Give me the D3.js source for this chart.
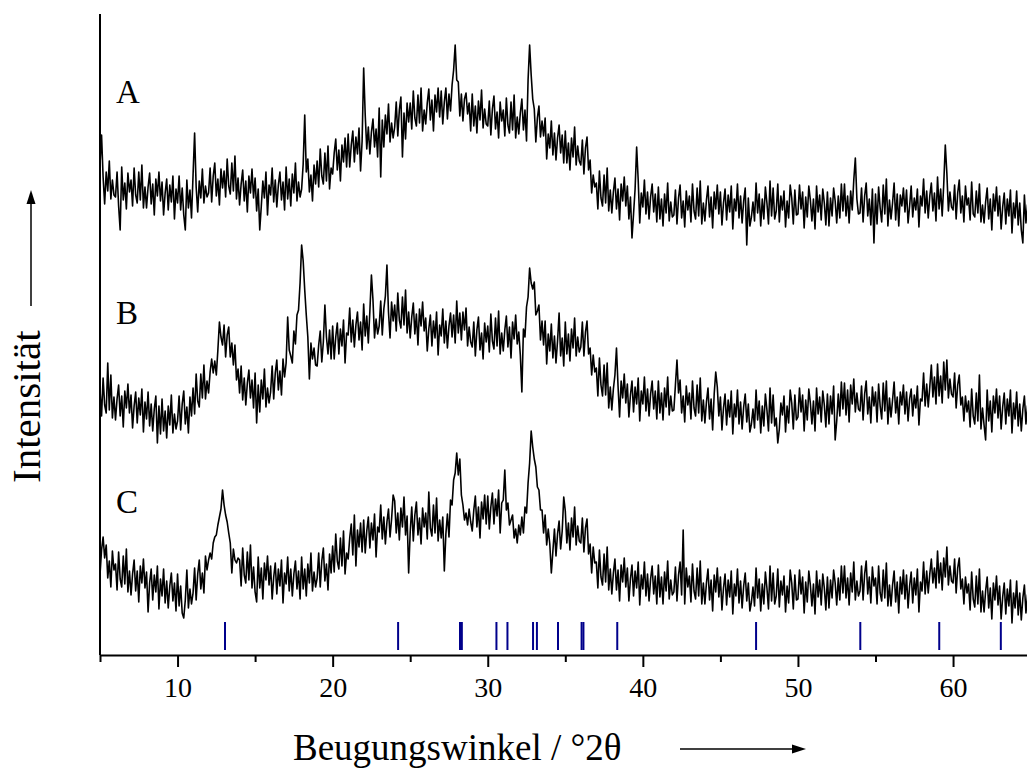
<!DOCTYPE html>
<html><head><meta charset="utf-8">
<script src="https://cdn.jsdelivr.net/npm/d3@7"></script>
<style>body{margin:0;background:#fff}svg{display:block}</style>
</head><body>
<svg id="c" width="1027" height="769"></svg>
<script>
// ---- data (intensity, arbitrary units, patterns already stacked) ----
const angleStart = 5.0, angleStep = 0.1;
const seriesA = [
490,520,478,451,483,464,494,456,475,460,
458,483,449,425,488,455,472,446,482,463,
475,449,487,460,452,483,455,490,447,468,
447,468,482,451,471,440,476,459,483,454,
473,440,462,476,445,470,453,479,436,466,
452,479,445,467,440,425,475,447,465,437,
480,522,468,443,474,457,486,452,469,458,
462,487,453,479,492,459,476,450,486,467,
484,458,496,469,461,492,464,499,456,477,
450,471,485,454,474,443,479,462,486,457,
477,444,466,425,449,474,457,483,440,470,
460,487,453,475,448,470,483,455,473,445,
488,456,476,449,481,462,492,454,473,458,
466,491,540,483,496,463,480,454,490,471,
494,468,506,479,471,502,474,509,466,487,
481,502,516,485,505,474,510,493,517,488,
521,488,510,524,493,518,501,527,484,514,
587,540,506,528,501,523,536,508,526,498,
547,478,535,508,540,521,551,513,532,517,
528,553,519,545,558,498,542,516,552,533,
552,526,564,537,529,560,532,567,524,545,
531,552,566,535,555,524,560,543,567,538,
564,531,553,567,536,561,544,570,585,610,
575,573,539,561,534,556,562,541,552,524,
561,529,549,522,554,535,565,527,546,531,
529,554,520,546,559,526,543,517,553,534,
545,519,557,530,522,553,525,560,517,538,
521,542,556,525,545,514,575,610,580,556,
546,513,537,549,518,534,519,537,496,521,
507,534,500,522,495,517,530,502,520,492,
524,492,512,485,517,498,528,490,509,494,
490,515,481,507,518,485,495,462,480,468,
472,446,484,457,449,480,452,487,444,465,
442,463,477,446,466,435,471,454,478,449,
469,436,458,417,441,466,508,475,432,462,
448,475,441,463,436,458,471,443,461,433,
468,436,456,429,461,442,472,434,453,438,
440,465,431,457,470,437,454,428,464,445,
459,433,471,444,436,467,439,474,431,452,
434,455,469,438,458,427,463,446,470,441,
463,430,452,466,435,460,443,469,426,456,
444,471,437,459,432,454,467,410,457,429,
438,453,434,472,442,461,429,456,436,468,
452,431,474,439,467,436,444,471,433,459,
445,464,428,454,437,470,457,431,465,440,
441,470,446,463,427,458,438,469,455,434,
456,426,469,443,460,435,466,452,430,463,
429,457,439,467,454,432,459,437,471,444,
471,439,459,432,464,445,475,497,456,441,
442,467,433,459,472,439,456,430,466,412,
461,431,468,447,433,470,441,476,429,455,
436,452,472,435,461,429,460,449,467,443,
465,432,449,469,438,457,445,466,428,459,
449,476,442,464,437,459,472,444,462,434,
478,446,466,439,471,510,482,444,463,448,
445,470,436,462,475,442,459,433,469,450,
457,435,473,441,438,464,442,471,433,450,
432,453,467,436,456,425,461,444,468,439,
459,426,448,462,431,456,439,465,422,452,
437,464,430,452,425,412,460,432,450,422
];
const seriesB = [
265,239,277,250,242,292,245,280,237,258,
235,256,270,239,259,228,264,247,271,242,
260,227,249,263,232,257,240,266,223,253,
236,263,229,251,224,246,259,212,249,221,
256,224,244,217,249,230,260,222,241,226,
234,259,225,251,264,231,248,222,258,239,
267,241,281,254,248,281,257,290,256,274,
262,283,296,282,294,280,305,333,318,310,
330,298,320,328,298,312,290,310,275,286,
262,289,255,277,250,272,285,257,275,247,
282,232,270,243,275,256,286,248,267,252,
263,289,256,282,295,265,284,260,296,278,
292,338,305,299,292,324,311,340,345,372,
410,394,365,340,318,276,312,296,307,290,
289,310,324,293,313,350,318,301,325,296,
329,296,318,332,301,326,309,335,292,322,
320,347,313,335,308,330,343,315,333,305,
351,319,339,312,344,380,355,317,336,321,
329,354,320,346,359,390,343,317,353,334,
350,324,362,335,327,358,330,365,322,343,
317,338,352,321,341,310,346,329,353,324,
337,304,326,340,309,334,317,343,300,330,
319,346,312,334,307,329,342,318,340,312,
354,322,342,315,343,325,347,309,328,313,
308,333,299,325,338,305,322,296,332,313,
329,303,341,314,306,337,309,344,301,322,
304,325,339,308,328,297,333,316,340,311,
323,300,263,326,318,348,358,387,372,366,
373,340,344,350,315,334,310,334,291,321,
304,331,297,319,292,314,342,299,317,289,
333,301,321,294,326,307,337,299,318,303,
308,333,299,323,334,301,307,280,300,283,
287,259,297,270,259,290,260,292,247,268,
245,266,280,307,269,238,274,257,281,252,
271,238,260,274,243,268,251,277,234,264,
251,278,244,266,239,261,274,246,264,236,
274,242,262,235,267,248,278,240,259,244,
245,270,295,262,275,242,259,233,269,250,
262,236,274,247,239,270,242,277,234,255,
232,253,267,236,256,225,261,283,268,239,
258,225,247,261,230,255,238,264,221,251,
238,265,231,253,226,248,261,233,251,223,
231,246,227,265,235,254,222,249,229,261,
245,224,267,232,260,229,237,212,226,252,
240,259,223,249,232,265,252,226,260,235,
238,267,243,260,224,255,235,266,252,231,
254,224,267,241,258,233,264,250,228,261,
231,259,241,269,215,234,261,239,273,246,
272,240,265,233,270,251,276,243,262,246,
244,269,235,261,274,241,258,232,268,249,
263,233,271,249,236,272,244,274,231,257,
238,255,273,242,258,231,263,250,270,241,
263,234,256,266,239,260,247,269,230,256,
254,282,249,271,248,268,290,258,278,251,
291,259,279,252,293,265,295,257,276,261,
258,282,247,270,280,250,258,234,259,243,
254,228,266,239,231,262,234,280,226,247,
230,215,265,234,254,223,259,242,266,237,
259,226,248,262,231,256,239,265,222,252,
236,263,229,251,224,246,259,231,249,221
];
const seriesC = [
80,105,118,97,110,77,94,68,104,85,
91,65,103,76,68,99,71,106,63,84,
60,81,95,64,84,53,89,72,96,67,
83,43,72,86,55,80,63,89,46,76,
59,86,52,74,47,69,82,54,72,44,
81,49,69,42,37,55,85,47,66,51,
62,87,55,81,95,66,82,62,99,85,
95,102,96,112,118,120,130,138,146,165,
150,140,133,122,112,82,106,95,92,97,
95,69,107,80,72,103,75,110,67,88,
63,53,98,67,87,56,92,75,99,70,
89,56,78,92,61,86,69,95,52,82,
71,98,64,86,59,81,94,66,84,56,
98,66,86,59,91,72,102,64,83,68,
77,102,68,94,107,74,91,65,101,82,
109,83,121,94,86,117,89,124,81,102,
96,117,131,100,140,89,125,108,132,103,
135,102,124,138,107,132,115,141,98,128,
123,150,116,138,111,133,146,118,136,160,
154,122,142,115,147,128,158,120,139,82,
123,148,114,140,153,120,137,111,147,128,
142,116,163,127,119,150,122,157,114,135,
117,138,84,121,141,118,155,150,175,182,
202,180,196,160,150,135,142,130,146,133,
124,145,159,128,148,117,153,136,160,131,
159,126,148,162,131,156,139,165,122,152,
155,185,145,152,130,135,140,117,126,112,
130,120,138,122,148,142,172,192,224,208,
196,188,168,165,145,145,122,140,110,126,
111,82,104,126,99,121,134,106,124,158,
144,112,132,105,137,118,148,110,129,114,
112,137,103,127,136,101,111,82,108,92,
93,67,105,78,70,101,73,108,65,86,
61,82,96,65,85,54,90,73,97,68,
87,54,76,90,59,84,67,93,50,80,
66,93,59,81,54,76,89,61,79,51,
90,58,78,51,83,64,94,56,75,60,
63,88,54,80,93,60,125,51,87,68,
79,53,91,64,56,87,59,94,51,72,
51,72,86,55,75,44,80,63,87,58,
78,45,67,81,50,75,58,84,41,71,
59,86,52,74,47,69,82,54,72,44,
53,68,49,87,57,76,44,71,51,83,
67,46,89,54,82,51,59,86,48,74,
60,79,43,69,52,85,72,46,80,55,
56,85,61,78,42,73,53,84,70,49,
71,41,84,58,75,50,81,67,45,78,
47,75,57,85,72,50,77,55,89,62,
89,57,77,50,82,63,93,55,74,59,
64,89,55,81,94,61,78,52,88,69,
77,51,89,62,54,85,57,92,49,70,
49,70,84,53,73,42,78,61,85,56,
80,47,69,83,52,77,60,86,43,73,
64,93,61,84,62,81,96,72,87,67,
104,72,92,65,97,78,108,70,89,74,
72,96,62,87,97,66,76,51,78,62,
71,45,83,56,48,79,51,86,43,64,
43,64,78,47,67,36,72,55,79,50,
69,36,58,72,41,66,49,75,32,62,
47,74,40,62,35,57,70,42,60,32
];
const seriesLabels = ["A", "B", "C"];
const refPeaks = [13.06, 24.22, 28.21, 28.33, 30.56, 31.27, 32.92, 33.17, 34.53, 36.05, 36.17, 38.35, 47.30, 54.02, 59.11, 63.08];
const xTicks = [10, 20, 30, 40, 50, 60];
const xMinorTicks = [5, 15, 25, 35, 45, 55, 65];
const xTitle = "Beugungswinkel / °2θ";
const yTitle = "Intensität";

// ---- layout ----
const font = "'Liberation Serif','Times New Roman',Times,serif";
const svg = d3.select("#c");
const x = d3.scaleLinear().domain([5, 65]).range([100, 1030.6]);
const y = d3.scaleLinear().domain([0, 641]).range([655, 14]);
const labelPos = [[116, 103], [116, 324], [116, 513]];

// patterns
const line = d3.line().x(d => x(d[0])).y(d => y(d[1]));
[seriesA, seriesB, seriesC].forEach(s => {
  const pts = s.map((v, i) => [angleStart + i * angleStep, v]);
  svg.append("path").datum(pts).attr("d", line)
    .attr("fill", "none").attr("stroke", "#000").attr("stroke-width", 1.6)
    .attr("stroke-linejoin", "round");
});

// reference peak markers
svg.append("g").selectAll("line").data(refPeaks).join("line")
  .attr("x1", d => x(d)).attr("x2", d => x(d))
  .attr("y1", 622).attr("y2", 650)
  .attr("stroke", "#00008b").attr("stroke-width", 2);

// series labels
svg.append("g").selectAll("text").data(seriesLabels).join("text")
  .attr("x", (d, i) => labelPos[i][0]).attr("y", (d, i) => labelPos[i][1])
  .attr("font-family", font).attr("font-size", 33).text(d => d);

// x axis
const gx = svg.append("g").attr("transform", "translate(0,655)");
gx.call(d3.axisBottom(x).tickValues(xTicks).tickSize(12).tickSizeOuter(0).tickFormat(d3.format("d")));
gx.select(".domain").attr("stroke-width", 2).attr("stroke", "#000");
gx.selectAll(".tick line").attr("stroke-width", 2).attr("stroke", "#000");
gx.selectAll(".tick text").attr("font-family", font).attr("font-size", 28)
  .attr("fill", "#000").attr("y", 42).attr("dy", 0);
const gxm = svg.append("g").attr("transform", "translate(0,655)");
gxm.call(d3.axisBottom(x).tickValues(xMinorTicks).tickSize(7).tickFormat(""));
gxm.select(".domain").remove();
gxm.selectAll(".tick line").attr("stroke-width", 2).attr("stroke", "#000");

// y axis line
svg.append("line").attr("x1", 100).attr("x2", 100).attr("y1", y(641)).attr("y2", y(0))
  .attr("stroke", "#000").attr("stroke-width", 2);

// titles
svg.append("text").attr("x", 293).attr("y", 760).attr("font-family", font)
  .attr("font-size", 37).text(xTitle);
svg.append("line").attr("x1", 680).attr("x2", 795).attr("y1", 749).attr("y2", 749)
  .attr("stroke", "#000").attr("stroke-width", 1.5);
svg.append("path").attr("d", "M806,749L792,744.5L792,753.5Z").attr("fill", "#000");

svg.append("text").attr("transform", "translate(40,483) rotate(-90)")
  .attr("font-family", font).attr("font-size", 41).text(yTitle);
svg.append("line").attr("x1", 31).attr("x2", 31).attr("y1", 306).attr("y2", 200)
  .attr("stroke", "#000").attr("stroke-width", 1.5);
svg.append("path").attr("d", "M31,190L26.5,204L35.5,204Z").attr("fill", "#000");
</script>
</body></html>
